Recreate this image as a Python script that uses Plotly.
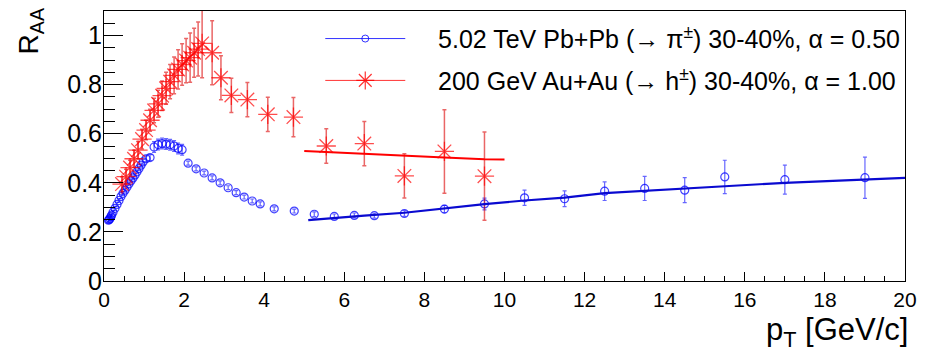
import plotly.graph_objects as go

# ---------------- data ----------------
pbpb_pt = [0.11, 0.13, 0.15, 0.17, 0.19, 0.225, 0.275, 0.325, 0.375, 0.425, 0.475, 0.525,
           0.575, 0.625, 0.675, 0.725, 0.775, 0.825, 0.875, 0.925, 0.975, 1.05, 1.15,
           1.25, 1.35, 1.45, 1.55, 1.65, 1.75, 1.85, 1.95,
           2.1, 2.3, 2.5, 2.7, 2.9, 3.1, 3.3, 3.5, 3.7, 3.9,
           4.25, 4.75, 5.25, 5.75, 6.25, 6.75, 7.5, 8.5, 9.5, 10.5, 11.5, 12.5, 13.5,
           14.5, 15.5, 17.0, 19.0]
pbpb_raa = [0.248, 0.250, 0.255, 0.262, 0.268, 0.280, 0.296, 0.312, 0.328, 0.344, 0.357, 0.370,
            0.383, 0.396, 0.408, 0.420, 0.432, 0.445, 0.458, 0.472, 0.485, 0.498, 0.503,
            0.546, 0.556, 0.560, 0.558, 0.555, 0.550, 0.540, 0.535,
            0.480, 0.457, 0.440, 0.420, 0.400, 0.380, 0.360, 0.342, 0.326, 0.314,
            0.294, 0.285, 0.272, 0.263, 0.267, 0.266, 0.275, 0.293, 0.314, 0.339, 0.335,
            0.366, 0.377, 0.370, 0.424, 0.413, 0.421]
pbpb_err = [0.010, 0.008, 0.008, 0.008, 0.008, 0.008, 0.008, 0.008, 0.008, 0.008, 0.008, 0.008,
            0.008, 0.008, 0.008, 0.008, 0.008, 0.008, 0.008, 0.008, 0.010, 0.012, 0.012,
            0.022, 0.022, 0.022, 0.022, 0.022, 0.022, 0.022, 0.022,
            0.008, 0.008, 0.008, 0.008, 0.008, 0.008, 0.008, 0.008, 0.008, 0.008,
            0.008, 0.008, 0.010, 0.010, 0.010, 0.010, 0.012, 0.015, 0.024, 0.031, 0.032,
            0.038, 0.049, 0.051, 0.068, 0.059, 0.084]

auau_pt = [0.45, 0.55, 0.65, 0.75, 0.85, 0.95, 1.05, 1.15, 1.25, 1.35, 1.45, 1.55, 1.65,
           1.75, 1.85, 1.95, 2.05, 2.15, 2.25, 2.35, 2.45,
           2.70, 2.92, 3.18, 3.58, 4.09, 4.73, 5.55, 6.50, 7.50, 8.50, 9.50]
auau_raa = [0.395, 0.425, 0.462, 0.498, 0.533, 0.578, 0.615, 0.655, 0.695, 0.722, 0.755, 0.785,
            0.812, 0.838, 0.862, 0.882, 0.898, 0.910, 0.930, 0.945, 0.968,
            0.930, 0.828, 0.756, 0.739, 0.679, 0.668, 0.550, 0.560, 0.428, 0.528, 0.427]
auau_err = [0.030, 0.030, 0.030, 0.035, 0.035, 0.040, 0.040, 0.045, 0.050, 0.055, 0.060, 0.065,
            0.070, 0.075, 0.080, 0.085, 0.090, 0.100, 0.100, 0.110, 0.140,
            0.130, 0.090, 0.070, 0.070, 0.070, 0.080, 0.070, 0.090, 0.090, 0.170, 0.180]

pbpb_fit_pt = [5.1, 5.8, 6.5, 7.5, 8.5, 9.5, 10.5, 11.5, 12.5, 13.5, 14.5, 15.5, 17.0, 19.0, 20.0]
pbpb_fit_raa = [0.248, 0.258, 0.266, 0.278, 0.296, 0.313, 0.328, 0.340, 0.358, 0.368, 0.377,
                0.386, 0.400, 0.414, 0.420]
auau_fit_pt = [5.0, 5.5, 6.5, 7.5, 8.5, 9.5, 10.0]
auau_fit_raa = [0.530, 0.526, 0.516, 0.508, 0.503, 0.496, 0.495]

legend_labels = ["5.02 TeV Pb+Pb (\u2192 \u03c0<sup>\u00b1</sup>) 30-40%, \u03b1 = 0.50",
                 "200 GeV Au+Au (\u2192 h<sup>\u00b1</sup>) 30-40%, \u03b1 = 1.00"]
x_ticks = [0, 2, 4, 6, 8, 10, 12, 14, 16, 18, 20]
y_ticks = [0, 0.2, 0.4, 0.6, 0.8, 1.0]
y_ticktext = ["0", "0.2", "0.4", "0.6", "0.8", "1"]

FONT = "Liberation Sans, Arial, Helvetica, sans-serif"
BLUE = "rgba(0,0,255,0.75)"
RED = "rgba(255,0,0,0.7)"
GAP = "\u00a0" * 4

fig = go.Figure()

fig.add_trace(go.Scatter(
    x=pbpb_pt, y=pbpb_raa, mode="markers", showlegend=False,
    marker=dict(symbol="circle-open", size=8, color=BLUE, line=dict(width=1.2, color=BLUE)),
    error_y=dict(type="data", array=pbpb_err, color="rgba(0,0,255,0.6)", thickness=1.2, width=2),
))
fig.add_trace(go.Scatter(
    x=auau_pt, y=auau_raa, mode="markers", showlegend=False,
    marker=dict(symbol="asterisk-open", size=16, color=RED, line=dict(width=1.3, color=RED)),
    error_y=dict(type="data", array=auau_err, color="rgba(220,0,0,0.6)", thickness=1.5, width=2),
))
fig.add_trace(go.Scatter(
    x=pbpb_fit_pt, y=pbpb_fit_raa, mode="lines", showlegend=False,
    line=dict(color="#0a0ad0", width=2.2),
))
fig.add_trace(go.Scatter(
    x=auau_fit_pt, y=auau_fit_raa, mode="lines", showlegend=False,
    line=dict(color="#ff0000", width=2),
))

# legend entries
fig.add_trace(go.Scatter(
    x=[None], y=[None], mode="lines+markers", name=GAP + legend_labels[0], legend="legend",
    line=dict(color="rgba(0,0,255,0.8)", width=1),
    marker=dict(symbol="circle-open", size=7, color="rgba(0,0,255,0.8)"),
))
fig.add_trace(go.Scatter(
    x=[None], y=[None], mode="lines+markers", name=GAP + legend_labels[1], legend="legend2",
    line=dict(color="rgba(255,0,0,0.8)", width=1),
    marker=dict(symbol="asterisk-open", size=15, color="rgba(255,0,0,0.8)", line=dict(width=1.2)),
))

leg_common = dict(xanchor="left", yanchor="middle", bgcolor="rgba(0,0,0,0)",
                  borderwidth=0, itemwidth=80,
                  font=dict(family=FONT, size=25, color="black"))

fig.update_layout(
    width=927, height=355,
    margin=dict(l=104, r=16, t=10, b=74, pad=0),
    paper_bgcolor="white", plot_bgcolor="white",
    font=dict(family=FONT, color="black"),
    legend=dict(x=0.27, y=0.897, **leg_common),
    legend2=dict(x=0.27, y=0.742, **leg_common),
    xaxis=dict(
        range=[0, 20], tickmode="array", tickvals=x_ticks,
        ticks="inside", ticklen=9, tickwidth=1, tickcolor="black",
        showline=True, linecolor="black", linewidth=1, mirror=True,
        showgrid=False, zeroline=False,
        tickfont=dict(family=FONT, size=21, color="black"),
        minor=dict(tickmode="linear", tick0=0, dtick=0.5, ticks="inside",
                   ticklen=5, tickcolor="black", showgrid=False),
    ),
    yaxis=dict(
        range=[0, 1.1], tickmode="array", tickvals=y_ticks, ticktext=y_ticktext,
        ticks="inside", ticklen=19, tickwidth=1, tickcolor="black",
        showline=True, linecolor="black", linewidth=1, mirror=True,
        showgrid=False, zeroline=False, ticklabelstandoff=-4,
        tickfont=dict(family=FONT, size=25, color="black"),
        minor=dict(tickmode="linear", tick0=0, dtick=0.05, ticks="inside",
                   ticklen=11, tickcolor="black", showgrid=False),
    ),
    annotations=[
        dict(text="R<sub>AA</sub>", xref="paper", yref="paper", x=-0.092, y=1.02,
             xanchor="center", yanchor="top", textangle=-90, showarrow=False,
             font=dict(family=FONT, size=28, color="black")),
        dict(text="p<sub>T</sub> [GeV/c]", xref="paper", yref="paper", x=1.006, y=-0.19,
             xanchor="right", yanchor="middle", showarrow=False,
             font=dict(family=FONT, size=31, color="black")),
    ],
)

fig.write_html("out.html")
